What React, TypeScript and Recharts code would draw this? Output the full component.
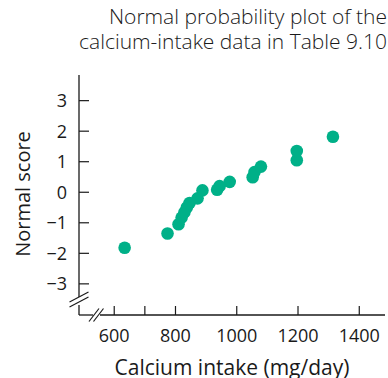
import { ScatterChart, Scatter, XAxis, YAxis, ReferenceLine } from 'recharts'

// calcium intake (mg/day) and the matching normal scores
const calcium = [634, 774, 810, 820, 829, 837, 846, 872, 888, 936, 944, 977, 1052, 1058, 1079, 1196, 1196, 1314]
const normalScore = [-1.82, -1.35, -1.05, -0.83, -0.66, -0.5, -0.35, -0.2, 0.06, 0.08, 0.2, 0.34, 0.49, 0.66, 0.84, 1.05, 1.35, 1.82]

const xTicks = [600, 700, 800, 900, 1000, 1100, 1200, 1300, 1400]
const xLabeled = [600, 800, 1000, 1200, 1400]
const yTicks = [-3, -2, -1, 0, 1, 2, 3]

const data = calcium.map((c, i) => ({ calcium: c, score: normalScore[i] }))

const X_MIN = 485
const X_MAX = 1484
const Y_MIN = -4.02
const Y_MAX = 3.84
// size of one pixel in data units (plot is 306 x 240 px)
const ux = (X_MAX - X_MIN) / 306
const uy = (Y_MAX - Y_MIN) / 240

const DOT = '#00b088'
const INK = '#1a1a1a'
const FONT = '"Open Sans", sans-serif'

function XTick({ x, y, payload }: any) {
  const v = payload.value
  return (
    <g>
      <line x1={x} y1={y} x2={x} y2={y - 9} stroke={INK} strokeWidth={1.2} />
      {xLabeled.includes(v) && (
        <text x={x} y={y + 27} textAnchor="middle" fontSize={18} fill={INK} fontFamily={FONT}>
          {v}
        </text>
      )}
    </g>
  )
}

function YTick({ x, y, payload }: any) {
  const v = payload.value
  return (
    <g>
      <line x1={x} y1={y} x2={x + 10} y2={y} stroke={INK} strokeWidth={1.2} />
      <text x={x - 12} y={y} dy="0.36em" textAnchor="end" fontSize={18} fill={INK} fontFamily={FONT}>
        {v < 0 ? `\u2212${-v}` : `${v}`}
      </text>
    </g>
  )
}

function Dot({ cx, cy }: any) {
  return <circle cx={cx} cy={cy} r={6.3} fill={DOT} />
}

function seg(x1: number, y1: number, x2: number, y2: number) {
  return [
    { x: x1, y: y1 },
    { x: x2, y: y2 },
  ]
}

export default function App() {
  // axis break positions, data units
  const yGapTop = Y_MIN + 18 * uy
  const yGapBottom = Y_MIN + 10 * uy
  const xGapLeft = X_MIN + 14 * ux
  const xGapRight = X_MIN + 21 * ux

  const breaks = [
    // y axis "//"
    seg(X_MIN - 9.5 * ux, yGapTop - 5 * uy, X_MIN + 9.5 * ux, yGapTop + 5 * uy),
    seg(X_MIN - 9.5 * ux, yGapTop - 10 * uy, X_MIN + 9.5 * ux, yGapTop),
    // x axis "//"
    seg(X_MIN + 10 * ux, Y_MIN - 6.5 * uy, X_MIN + 20 * ux, Y_MIN + 6.5 * uy),
    seg(X_MIN + 14.5 * ux, Y_MIN - 6.5 * uy, X_MIN + 24.5 * ux, Y_MIN + 6.5 * uy),
  ]

  return (
    <div style={{ position: 'absolute', left: 0, top: 0, width: 388, height: 378, background: '#fff' }}>
      <div
        style={{
          position: 'absolute',
          right: 1,
          top: 4,
          textAlign: 'right',
          fontFamily: FONT,
          fontWeight: 300,
          fontSize: 21,
          lineHeight: '25px',
          color: INK,
          whiteSpace: 'nowrap',
        }}
      >
        Normal probability plot of the
        <br />
        calcium-intake data in Table 9.10
      </div>
      <ScatterChart width={388} height={378} margin={{ top: 75, right: 3, left: 19, bottom: 33 }}>
        <XAxis
          type="number"
          dataKey="calcium"
          domain={[X_MIN, X_MAX]}
          ticks={xTicks}
          tick={<XTick />}
          tickSize={0}
          tickMargin={0}
          tickLine={false}
          axisLine={false}
          allowDataOverflow
          height={30}
          label={{
            value: 'Calcium intake (mg/day)',
            position: 'bottom',
            offset: 15,
            fontSize: 21,
            fill: INK,
            fontFamily: FONT,
          }}
        />
        <YAxis
          type="number"
          dataKey="score"
          domain={[Y_MIN, Y_MAX]}
          ticks={yTicks}
          tick={<YTick />}
          tickSize={0}
          tickMargin={0}
          tickLine={false}
          axisLine={false}
          allowDataOverflow
          width={60}
          label={{
            value: 'Normal score',
            content: () => (
              <text
                transform="translate(30,194) rotate(-90)"
                textAnchor="middle"
                fontSize={20}
                fill={INK}
                fontFamily={FONT}
              >
                Normal score
              </text>
            ),
          }}
        />
        <ReferenceLine segment={seg(X_MIN, Y_MAX, X_MIN, yGapTop)} stroke={INK} strokeWidth={1.3} ifOverflow="visible" />
        <ReferenceLine segment={seg(X_MIN, yGapBottom, X_MIN, Y_MIN)} stroke={INK} strokeWidth={1.3} ifOverflow="visible" />
        <ReferenceLine segment={seg(X_MIN, Y_MIN, xGapLeft, Y_MIN)} stroke={INK} strokeWidth={1.3} ifOverflow="visible" />
        <ReferenceLine segment={seg(xGapRight, Y_MIN, X_MAX, Y_MIN)} stroke={INK} strokeWidth={1.3} ifOverflow="visible" />
        {breaks.map((s, i) => (
          <ReferenceLine key={i} segment={s} stroke={INK} strokeWidth={1.2} ifOverflow="visible" />
        ))}
        <Scatter data={data} shape={<Dot />} isAnimationActive={false} />
      </ScatterChart>
    </div>
  )
}
